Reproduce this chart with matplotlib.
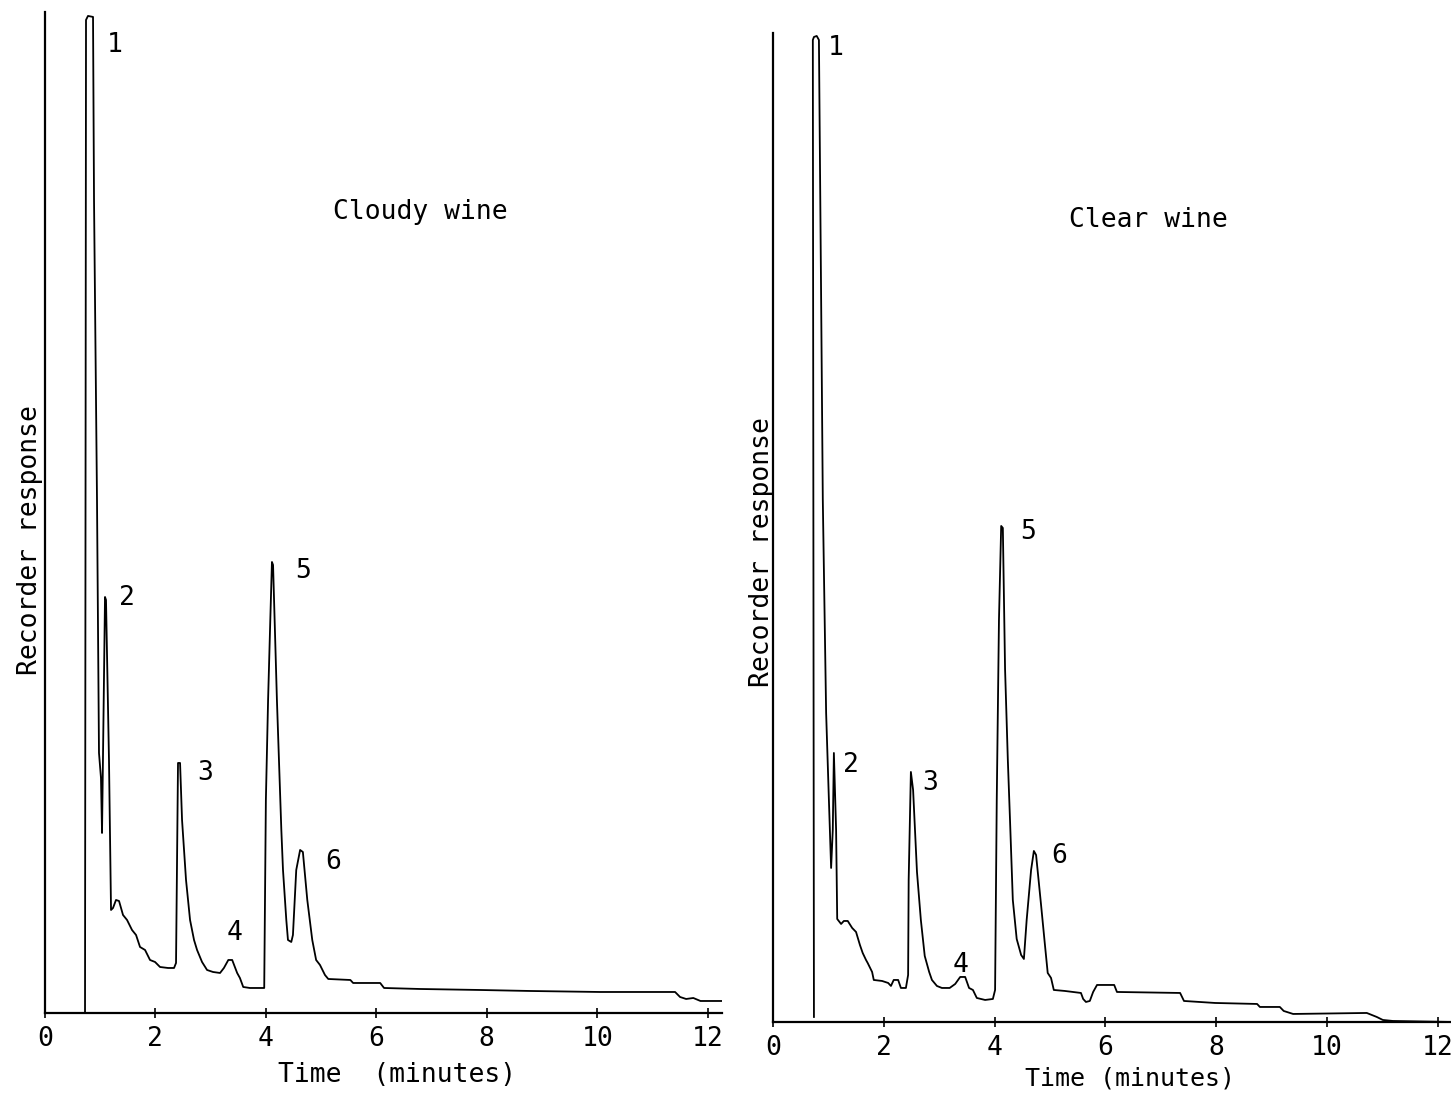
import matplotlib
matplotlib.use("Agg")
import matplotlib.pyplot as plt

# cloudy wine trace (time in minutes, response in % of full scale)
cloudy_t = [0.725, 0.743, 0.779, 0.87, 0.888, 0.942, 0.978, 1.014, 1.033, 1.087, 1.105,
            1.159, 1.196, 1.232, 1.286, 1.341, 1.413, 1.486, 1.576, 1.649, 1.721, 1.812,
            1.902, 1.993, 2.083, 2.228, 2.337, 2.373, 2.409, 2.446, 2.482, 2.554, 2.627,
            2.699, 2.754, 2.844, 2.935, 3.043, 3.17, 3.24, 3.32, 3.39, 3.48, 3.53, 3.59,
            3.71, 3.95, 3.97, 4.0, 4.04, 4.08, 4.11, 4.13, 4.20, 4.28, 4.31, 4.37, 4.40,
            4.46, 4.49, 4.55, 4.62, 4.67, 4.75, 4.84, 4.91, 4.98, 5.07, 5.13, 5.53, 5.58,
            6.07, 6.14, 6.79, 7.88, 8.79, 10.05, 11.41, 11.5, 11.61, 11.74, 11.87, 12.26]
cloudy_y = [0.0, 99.3, 99.7, 99.6, 81.3, 51.3, 26.0, 23.5, 18.0, 41.6, 41.3,
            25.3, 10.3, 10.5, 11.3, 11.2, 9.8, 9.3, 8.3, 7.8, 6.6, 6.3,
            5.3, 5.1, 4.6, 4.5, 4.5, 5.0, 25.0, 25.0, 19.3, 13.3, 9.3,
            7.3, 6.3, 5.1, 4.3, 4.1, 4.0, 4.5, 5.3, 5.3, 4.0, 3.5, 2.6,
            2.5, 2.5, 2.5, 21.3, 31.3, 39.3, 45.1, 44.8, 31.3, 18.3, 14.3, 9.3, 7.3,
            7.1, 7.8, 14.3, 16.3, 16.1, 11.3, 7.3, 5.3, 4.8, 3.8, 3.4, 3.3, 3.0,
            3.0, 2.5, 2.4, 2.3, 2.2, 2.1, 2.1, 1.6, 1.4, 1.5, 1.2, 1.2]

# clear wine trace
clear_t = [0.74, 0.72, 0.74, 0.79, 0.83, 0.87, 0.90, 0.96, 1.01, 1.05, 1.08, 1.10,
           1.14, 1.16, 1.23, 1.28, 1.35, 1.43, 1.50, 1.57, 1.62, 1.68, 1.71, 1.79,
           1.82, 1.97, 2.08, 2.13, 2.18, 2.26, 2.31, 2.40, 2.44, 2.45, 2.49, 2.53,
           2.60, 2.67, 2.74, 2.82, 2.87, 2.96, 3.05, 3.19, 3.29, 3.38, 3.47, 3.54,
           3.61, 3.68, 3.83, 3.97, 4.01, 4.04, 4.08, 4.12, 4.15, 4.19, 4.24, 4.28,
           4.33, 4.40, 4.48, 4.53, 4.58, 4.66, 4.71, 4.75, 4.84, 4.91, 4.96, 5.02,
           5.07, 5.27, 5.56, 5.60, 5.65, 5.72, 5.78, 5.85, 6.16, 6.21, 7.35, 7.42,
           7.98, 8.74, 8.79, 9.15, 9.22, 9.39, 10.72, 10.90, 11.01, 11.19, 12.24]
clear_y = [0.5, 98.2, 98.5, 98.6, 98.2, 72.2, 52.2, 30.9, 22.2, 15.4, 19.2, 26.9,
           19.2, 10.3, 9.8, 10.1, 10.1, 9.4, 9.0, 7.7, 6.9, 6.2, 5.9, 5.0,
           4.2, 4.1, 3.9, 3.6, 4.2, 4.2, 3.4, 3.4, 4.7, 14.2, 25.0, 23.2,
           15.0, 10.2, 6.6, 5.0, 4.2, 3.6, 3.4, 3.4, 3.8, 4.5, 4.5, 3.4,
           3.2, 2.4, 2.2, 2.3, 3.2, 22.2, 40.2, 49.6, 49.4, 35.3, 26.2, 20.1,
           12.2, 8.3, 6.7, 6.3, 10.2, 15.2, 17.1, 16.7, 11.7, 7.7, 4.9, 4.4,
           3.2, 3.1, 2.9, 2.3, 2.0, 2.1, 3.0, 3.7, 3.7, 3.0, 2.9, 2.1,
           1.9, 1.8, 1.5, 1.5, 1.1, 0.8, 0.9, 0.5, 0.2, 0.1, 0.0]

peak_names = ["1", "2", "3", "4", "5", "6"]
cloudy_label_t = [1.27, 1.49, 2.90, 3.44, 4.67, 5.22]
cloudy_label_y = [96.8, 41.5, 24.0, 8.0, 44.2, 15.1]
clear_label_t = [1.14, 1.41, 2.83, 3.38, 4.60, 5.16]
clear_label_y = [97.4, 25.7, 23.9, 5.7, 49.0, 16.6]

xticks = [0, 2, 4, 6, 8, 10, 12]

plt.rcParams["font.family"] = ["DejaVu Sans Mono"]
FS = 19

fig = plt.figure(figsize=(14.51, 10.95), dpi=100)
ax1 = fig.add_axes([0.0310, 0.0749, 0.4666, 0.9142])
ax2 = fig.add_axes([0.5327, 0.0667, 0.4673, 0.9032])


def style(ax, xmax, ymax):
    ax.set_xlim(0, xmax)
    ax.set_ylim(0, ymax)
    for s in ("top", "right"):
        ax.spines[s].set_visible(False)
    for s in ("left", "bottom"):
        ax.spines[s].set_linewidth(1.6)
    ax.set_yticks([])
    ax.set_xticks(xticks)
    ax.tick_params(axis="x", direction="inout", length=7, width=1.2,
                   labelsize=FS, pad=6)


style(ax1, 12.26, 100.1)
style(ax2, 12.24, 98.9)

ax1.plot(cloudy_t, cloudy_y, color="black", lw=1.3)
ax2.plot(clear_t, clear_y, color="black", lw=1.3)

for ax, lt, ly in ((ax1, cloudy_label_t, cloudy_label_y), (ax2, clear_label_t, clear_label_y)):
    for name, t, y in zip(peak_names, lt, ly):
        ax.text(t, y, name, fontsize=FS, ha="center", va="center")

ax1.text(6.8, 80.1, "Cloudy wine", fontsize=FS, ha="center", va="center")
ax2.text(6.77, 80.2, "Clear wine", fontsize=FS, ha="center", va="center")

ax1.text(0.52, -0.062, "Time  (minutes)", transform=ax1.transAxes,
         fontsize=FS, ha="center", va="center")
ax2.text(0.527, -0.057, "Time (minutes)", transform=ax2.transAxes,
         fontsize=18, ha="center", va="center")
ax1.text(-0.022, 0.4725, "Recorder response", transform=ax1.transAxes,
         fontsize=FS, ha="center", va="center", rotation=90)
ax2.text(-0.016, 0.475, "Recorder response", transform=ax2.transAxes,
         fontsize=FS, ha="center", va="center", rotation=90)

fig.savefig("out.png", dpi=100)
